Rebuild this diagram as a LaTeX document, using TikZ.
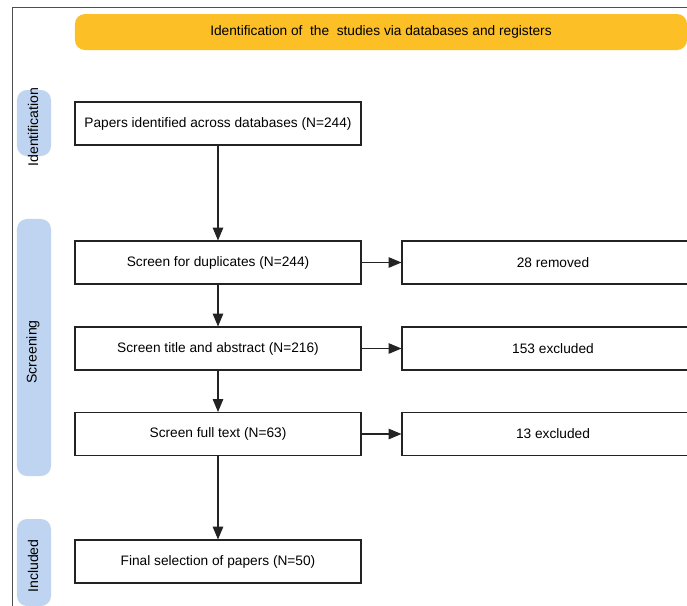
\documentclass[tikz,border=0pt]{standalone}
\usepackage{fontspec}
\setmainfont{Liberation Sans}
\usepackage{xcolor}
\usetikzlibrary{arrows.meta,positioning}

\definecolor{bannerfill}{RGB}{252,191,38}
\definecolor{stagefill}{RGB}{190,212,240}
\definecolor{edgegray}{RGB}{35,35,35}

\begin{document}
\begin{tikzpicture}[x=0.03cm, y=-0.03cm,
    every node/.style={font=\fontsize{11.7}{14}\selectfont},
    stepbox/.style={draw=edgegray, line width=0.9pt, rectangle, fill=white, minimum width=8.58cm, minimum height=1.29cm, align=center},
    outbox/.style={stepbox, minimum width=9.06cm},
    stagebar/.style={rectangle, rounded corners=0.3cm, fill=stagefill, minimum width=1.02cm},
    stagelabel/.style={rotate=90, font=\fontsize{12}{14}\selectfont},
    flow/.style={draw=edgegray, line width=0.9pt, -{Triangle[length=11pt, width=9pt]}}
]
    \useasboundingbox (0,0) rectangle (687,606);

    % Outer frame
    \draw[edgegray!80, line width=0.8pt] (12,7.5) rectangle (720,640);

    % Banner
    \node[rectangle, rounded corners=0.3cm, fill=bannerfill, minimum width=18.36cm, minimum height=1.08cm] (banner) at (381,32)
        {Identification of\ \ the\ \ studies via databases and registers};

    % Stage bars
    \node[stagebar, minimum height=1.98cm] (id_bar) at (34,123) {};
    \node[stagebar, minimum height=7.71cm] (screen_bar) at (34,347.5) {};
    \node[stagebar, minimum height=2.61cm] (incl_bar) at (34,562.5) {};
    \node[stagelabel] (id_label) at (33,127) {Identification};
    \node[stagelabel] (screen_label) at (33,352) {Screening};
    \node[stagelabel] (incl_label) at (33,566) {Included};

    % Main steps
    \node[stepbox] (identified) at (218,123.5) {Papers identified across databases (N=244)};
    \node[stepbox] (duplicates) at (218,262.5) {Screen for duplicates (N=244)};
    \node[stepbox] (abstract) at (218,348.5) {Screen title and abstract (N=216)};
    \node[stepbox] (fulltext) at (218,434) {Screen full text (N=63)};
    \node[stepbox] (final) at (218,561.5) {Final selection of papers (N=50)};

    % Removed / excluded
    \node[outbox] (removed) at (553,262.5) {28 removed};
    \node[outbox] (excl_abstract) at (553,348.5) {153 excluded};
    \node[outbox] (excl_fulltext) at (553,434) {13 excluded};

    % Flow
    \draw[flow] (identified) -- (duplicates);
    \draw[flow] (duplicates) -- (abstract);
    \draw[flow] (abstract) -- (fulltext);
    \draw[flow] (fulltext) -- (final);
    \draw[flow] (duplicates) -- (removed);
    \draw[flow] (abstract) -- (excl_abstract);
    \draw[flow] (fulltext) -- (excl_fulltext);
\end{tikzpicture}
\end{document}
